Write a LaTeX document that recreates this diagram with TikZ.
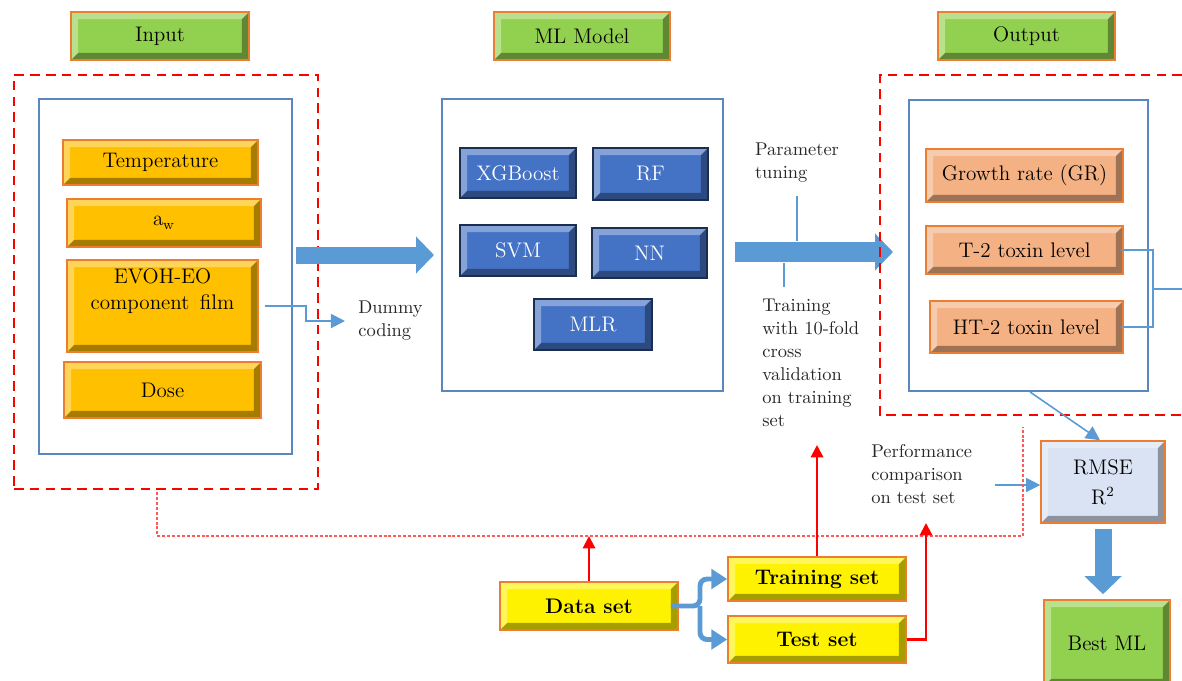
\documentclass[tikz,border=0pt]{standalone}
\usetikzlibrary{arrows.meta,positioning}
\definecolor{hgreen}{HTML}{92D050}
\definecolor{hedge}{HTML}{ED7D31}
\definecolor{gold}{HTML}{FFC000}
\definecolor{mlblue}{HTML}{4472C4}
\definecolor{peach}{HTML}{F4B183}
\definecolor{paleblue}{HTML}{DAE3F3}
\definecolor{frameblue}{HTML}{5B87C0}
\definecolor{linkblue}{HTML}{5B9BD5}
\tikzset{
  wh/.style 2 args={minimum width=#1*0.02cm, minimum height=#2*0.02cm},
  bevel/.style={path picture={
    \fill[white,opacity=.35] (path picture bounding box.south west) -- (path picture bounding box.north west)
      -- (path picture bounding box.north east) -- ([shift={(-4pt,-4pt)}]path picture bounding box.north east)
      -- ([shift={(4pt,-4pt)}]path picture bounding box.north west) -- ([shift={(4pt,4pt)}]path picture bounding box.south west) -- cycle;
    \fill[black,opacity=.35] (path picture bounding box.south west) -- (path picture bounding box.south east)
      -- (path picture bounding box.north east) -- ([shift={(-4pt,-4pt)}]path picture bounding box.north east)
      -- ([shift={(-4pt,4pt)}]path picture bounding box.south east) -- ([shift={(4pt,4pt)}]path picture bounding box.south west) -- cycle;
  }},
  tile/.style={draw=hedge, line width=0.9pt, inner sep=2pt, bevel, align=center, font=\fontsize{12}{15}\selectfont},
  headbox/.style={tile, fill=hgreen},
  inputbox/.style={tile, fill=gold},
  modelbox/.style={tile, draw=mlblue!40!black, fill=mlblue, text=white},
  outputbox/.style={tile, fill=peach},
  scorebox/.style={tile, fill=paleblue},
  setbox/.style={tile, fill=yellow, font=\fontsize{12}{15}\selectfont\bfseries},
  frame/.style={draw=frameblue, line width=1.1pt, inner sep=0pt},
  dashframe/.style={draw=red, line width=1.4pt, dash pattern=on 5.5pt off 3.5pt, inner sep=0pt},
  dotline/.style={draw=red!65, line width=0.6pt, dash pattern=on 1.7pt off 1.1pt},
  note/.style={font=\fontsize{10.5}{13}\selectfont, text=black!85, align=left, inner sep=0pt},
  blockarrow/.style={-{Triangle[length=0.36cm,width=0.72cm]}, line width=0.34cm, linkblue},
  link/.style={line width=1.3pt, linkblue},
  arrow/.style={-{Triangle[length=8pt,width=8pt]}, line width=1.1pt, linkblue},
  fatlink/.style={-{Triangle[length=9pt,width=11pt]}, line width=2.8pt, linkblue, rounded corners=4pt},
  redarrow/.style={-{Triangle[length=7pt,width=7pt]}, line width=1.2pt, red}
}
\begin{document}
\begin{tikzpicture}[x=0.02cm, y=-0.02cm]
  \useasboundingbox (0,0) rectangle (1182,680);
  % headers
  \node[headbox, wh={178}{48}] (hin) at (160,36) {Input};
  \node[headbox, wh={176}{48}] (hml) at (582,36) {ML Model};
  \node[headbox, wh={177}{48}] (hout) at (1026.5,36) {Output};

  % input variables
  \node[dashframe, wh={304}{414}] (indash) at (166,282) {};
  \node[frame, wh={253}{355}] (inbox) at (165.5,276.5) {};
  \node[inputbox, wh={195}{45}] (temp) at (160.5,162.5) {Temperature};
  \node[inputbox, wh={194}{48}] (aw) at (164,223) {$\mathrm{a_w}$};
  \node[inputbox, wh={191}{92}] (evoh) at (162.5,306) {EVOH-EO\\component\enspace film\\\strut};
  \node[inputbox, wh={197}{56}] (dose) at (162.5,390) {Dose};
  \node[note, anchor=west] (dummy) at (358,321) {Dummy\\coding};
  \draw[arrow] ([xshift=0.12cm]evoh.east) -- ++(41,0) |- ([xshift=-0.26cm]dummy.west);

  % models
  \node[frame, wh={281}{292}] (mlbox) at (582.5,245) {};
  \node[modelbox, wh={116}{50}] (xgb) at (518,173) {XGBoost};
  \node[modelbox, wh={115}{52}] (rf) at (650.5,174) {RF};
  \node[modelbox, wh={116}{51}] (svm) at (518,250.5) {SVM};
  \node[modelbox, wh={115}{50}] (nn) at (649.5,253) {NN};
  \node[modelbox, wh={118}{51}] (mlr) at (593,324.5) {MLR};

  \coordinate (a1s) at (296,255); \coordinate (a1e) at (434,255);
  \coordinate (a2s) at (735,252); \coordinate (a2e) at (893,252);
  \draw[blockarrow] (a1s) -- (a1e);
  \draw[blockarrow, line width=0.4cm] (a2s) -- (a2e);

  \node[note] (tune) at (797,163) {Parameter\\tuning};
  \node[note, anchor=north west] (cv) at (762,299) {Training\\with 10-fold\\cross\\validation\\on training\\set};
  \coordinate (tuneA) at (797,196); \coordinate (tuneB) at (797,241);
  \coordinate (cvA) at (784,263); \coordinate (cvB) at (784,287);
  \draw[link, line width=1.6pt] (tuneA) -- (tuneB);
  \draw[link, line width=1.6pt] (cvA) -- (cvB);

  % outputs
  \draw[dashframe] (1182,75) -| (880,415) -- (1182,415);
  \node[frame, wh={239}{291}] (outbox) at (1028.5,245.5) {};
  \node[outputbox, wh={197}{53}] (gr) at (1024.5,175.5) {Growth rate (GR)};
  \node[outputbox, wh={197}{48}] (t2) at (1024.5,250) {T-2 toxin level};
  \node[outputbox, wh={193}{52}] (ht2) at (1026.5,327) {HT-2 toxin level};
  \coordinate (join) at (1153,289); \coordinate (outR) at (1182,289);
  \draw[link] ([xshift=-0.06cm]t2.east) -| (join) |- ([xshift=-0.06cm]ht2.east);
  \draw[link] (join) -- (outR);

  % evaluation
  \node[scorebox, wh={124}{82}] (rmse) at (1103,482) {RMSE\\[2pt]R\textsuperscript{2}};
  \node[headbox, wh={126}{86}] (best) at (1107,643) {Best ML};
  \draw[arrow, line width=0.9pt] ([xshift=0.03cm]outbox.south) -- ([xshift=-0.06cm]rmse.north);
  \draw[blockarrow] ([yshift=-0.1cm]rmse.south) -- ([yshift=0.1cm]rmse.south |- best.north);
  \node[note, anchor=north west] (perf) at (871,444) {Performance\\comparison\\on test set};
  \coordinate (perfA) at (995,485);
  \draw[arrow, line width=0.6pt] (perfA) -- (rmse.west |- perfA);

  % data split
  \node[setbox, wh={178}{48}] (data) at (589,606) {Data set};
  \node[setbox, wh={178}{44}] (train) at (817,579) {Training set};
  \node[setbox, wh={178}{47}] (test) at (817,639.5) {Test set};
  \coordinate (fork) at (700,606);
  \draw[fatlink] ([xshift=-0.16cm]data.east) -- (fork) |- (train.west);
  \draw[fatlink] (fork) |- (test.west);

  % red links
  \coordinate (dotL) at (157,492); \coordinate (busR) at (1023,536); \coordinate (dotR) at (1023,427);
  \draw[dotline] (dotL) |- (busR) -- (dotR);
  \coordinate (cvtip) at (817,445); \coordinate (testtip) at (926,523);
  \draw[redarrow] (data.north) -- (data.north |- busR);
  \draw[redarrow] (train.north) -- (cvtip);
  \draw[redarrow] (test.east) -| (testtip);
\end{tikzpicture}
\end{document}
